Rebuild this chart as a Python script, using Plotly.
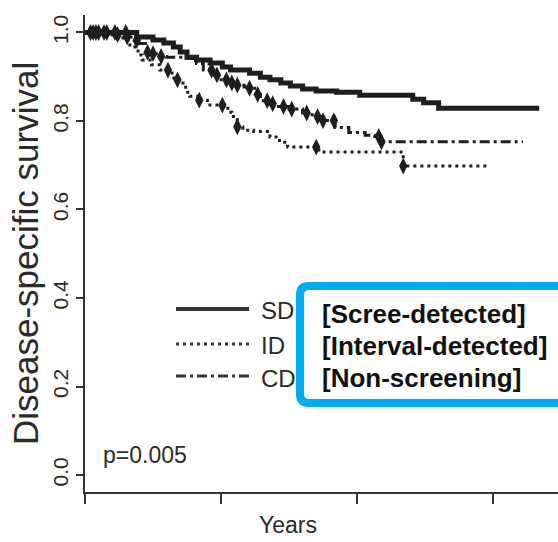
import numpy as np
import plotly.graph_objects as go

# ---- data (years, survival) ----
sd_t = [0, 1.9, 2.5, 2.9, 3.25, 3.5, 3.75, 4.1, 4.6, 5.05, 5.35, 6.05, 6.45, 6.8, 7.2, 7.55, 8.0, 8.5, 9.25, 10.1, 12.05, 12.45, 13.0]
sd_s = [1.0, 0.99, 0.983, 0.976, 0.967, 0.956, 0.944, 0.938, 0.931, 0.922, 0.915, 0.908, 0.899, 0.893, 0.886, 0.879, 0.872, 0.868, 0.865, 0.858, 0.849, 0.841, 0.829]
sd_end = 16.7
sd_cens = [0.2, 0.5, 0.8, 1.1, 1.5]

id_t = [0, 0.9, 1.4, 1.65, 1.95, 2.1, 2.45, 2.75, 3.2, 3.4, 3.6, 3.7, 3.85, 4.2, 4.5, 5.25, 5.4, 5.6, 5.8, 6.2, 6.8, 7.15, 7.45, 8.6, 11.7]
id_s = [1.0, 0.995, 0.983, 0.967, 0.949, 0.938, 0.927, 0.915, 0.897, 0.893, 0.886, 0.865, 0.856, 0.847, 0.836, 0.82, 0.81, 0.787, 0.779, 0.776, 0.764, 0.752, 0.741, 0.73, 0.698]
id_end = 14.78
id_cens = [0.3, 0.7, 3.05, 3.4, 4.2, 5.05, 5.6, 8.5, 11.7]

cd_t = [0, 1.0, 1.4, 1.75, 1.95, 2.3, 2.5, 2.75, 3.0, 3.75, 4.1, 4.35, 4.7, 4.9, 5.25, 5.5, 5.85, 6.05, 6.3, 6.45, 6.8, 7.05, 7.5, 8.0, 8.35, 8.7, 9.2, 9.7, 10.3, 10.65, 10.85]
cd_s = [1.0, 0.995, 0.99, 0.982, 0.975, 0.955, 0.952, 0.946, 0.944, 0.942, 0.93, 0.915, 0.904, 0.893, 0.886, 0.881, 0.877, 0.874, 0.86, 0.846, 0.839, 0.833, 0.827, 0.818, 0.81, 0.801, 0.785, 0.774, 0.768, 0.765, 0.753]
cd_end = 16.1
cd_cens = [0.4, 1.2, 1.55, 1.9, 2.3, 2.5, 2.8, 4.65, 4.85, 5.2, 5.4, 5.6, 6.05, 6.35, 6.7, 6.9, 7.3, 7.6, 8.15, 8.55, 8.75, 9.15, 10.8, 10.9]

y_ticks = [0.0, 0.2, 0.4, 0.6, 0.8, 1.0]
y_ticklabels = ["0.0", "0.2", "0.4", "0.6", "0.8", "1.0"]
x_ticks = [0, 5, 10, 15]

legend_labels = ["SD", "ID", "CD"]
box_labels = ["[Scree-detected]", "[Interval-detected]", "[Non-screening]"]
p_text = "p=0.005"

W, H = 558, 542
ML, MR, MT, MB = 85, 0, 15, 50
PW, PH = W - ML - MR, H - MT - MB

INK = "#1e1e1e"
SANS = "Liberation Sans, Arial, sans-serif"


def px_x(x):
    return (x - ML) / PW


def px_y(y):
    return (H - MB - y) / PH


def step_at(ts, ss, t):
    i = np.searchsorted(np.array(ts), t, side="right") - 1
    return ss[i]


fig = go.Figure()

styles = [
    (sd_t, sd_s, sd_end, sd_cens, dict(width=5, color=INK, dash="solid")),
    (id_t, id_s, id_end, id_cens, dict(width=3, color=INK, dash="3px,4px")),
    (cd_t, cd_s, cd_end, cd_cens, dict(width=3, color=INK, dash="10px,4px,3px,4px")),
]
for ts, ss, te, cens, ln in styles:
    fig.add_trace(go.Scatter(x=list(ts) + [te], y=list(ss) + [ss[-1]], mode="lines",
                             line=dict(shape="hv", **ln), showlegend=False, hoverinfo="skip"))
    fig.add_trace(go.Scatter(x=cens, y=[step_at(ts, ss, c) for c in cens], mode="markers",
                             marker=dict(symbol="diamond-tall", size=12, color=INK, line=dict(width=0)),
                             showlegend=False, hoverinfo="skip"))

shapes = []
# legend samples
leg_y = [309, 344, 376]
leg_dash = ["solid", "3px,4px", "10px,4px,3px,4px"]
leg_w = [4, 3, 3]
for yy, dsh, lw in zip(leg_y, leg_dash, leg_w):
    shapes.append(dict(type="line", xref="paper", yref="paper", x0=px_x(176), x1=px_x(249),
                       y0=px_y(yy), y1=px_y(yy), line=dict(color="#333333", width=lw, dash=dsh)))

annotations = []
for yy, lab in zip([311, 345, 378], legend_labels):
    annotations.append(dict(xref="paper", yref="paper", x=px_x(259), y=px_y(yy), text=lab,
                            showarrow=False, xanchor="left", yanchor="middle",
                            font=dict(family=SANS, size=24, color="#2a2a2a")))

# blue box, open past the right edge: white fill + open outline (top, rounded left, bottom)
bx0, by0, bx1, by1, r = 300, 286, 640, 403, 9
rx, ry = r / PW, r / PH
X0, X1 = px_x(bx0), px_x(bx1)
Y0, Y1 = px_y(by1), px_y(by0)
shapes.append(dict(type="rect", xref="paper", yref="paper", x0=X0, x1=X1, y0=Y0, y1=Y1,
                   fillcolor="white", line=dict(width=0), layer="above"))
path = (f"M {X1},{Y1} L {X0+rx},{Y1} Q {X0},{Y1} {X0},{Y1-ry} L {X0},{Y0+ry} "
        f"Q {X0},{Y0} {X0+rx},{Y0} L {X1},{Y0}")
shapes.append(dict(type="path", xref="paper", yref="paper", path=path,
                   line=dict(color="#00AEEF", width=8), layer="above"))

for yy, lab in zip([314, 346, 378], box_labels):
    annotations.append(dict(xref="paper", yref="paper", x=px_x(320), y=px_y(yy), text="<b>" + lab + "</b>",
                            showarrow=False, xanchor="left", yanchor="middle",
                            font=dict(family=SANS, size=26, color="#111111")))

annotations.append(dict(xref="paper", yref="paper", x=px_x(101), y=px_y(455), text=p_text,
                        showarrow=False, xanchor="left", yanchor="middle",
                        font=dict(family=SANS, size=23, color="#2a2a2a")))
annotations.append(dict(xref="paper", yref="paper", x=px_x(288), y=px_y(525), text="Years",
                        showarrow=False, xanchor="center", yanchor="middle",
                        font=dict(family=SANS, size=23, color="#2a2a2a")))
annotations.append(dict(xref="paper", yref="paper", x=px_x(26), y=px_y(254), text="Disease-specific survival",
                        showarrow=False, xanchor="center", yanchor="middle", textangle=-90,
                        font=dict(family=SANS, size=35, color="#2a2a2a")))

fig.update_layout(
    width=W, height=H, margin=dict(l=ML, r=MR, t=MT, b=MB),
    plot_bgcolor="white", paper_bgcolor="white",
    shapes=shapes, annotations=annotations, showlegend=False,
    xaxis=dict(range=[0, PW / 27.2], tickvals=x_ticks, ticktext=["", "", "", ""], ticks="outside",
               ticklen=10, tickwidth=2, tickcolor="#333333", showline=True, linecolor="#333333",
               linewidth=2, showgrid=False, zeroline=False, fixedrange=True),
    yaxis=dict(range=[-0.0384, 1.0395], tickvals=y_ticks, ticktext=y_ticklabels, ticks="outside",
               ticklen=7, tickwidth=2, tickcolor="#333333", showline=True, linecolor="#333333",
               linewidth=2, showgrid=False, zeroline=False, tickangle=-90,
               tickfont=dict(family=SANS, size=21, color="#2a2a2a"), fixedrange=True),
)

fig.write_html("out.html", config={"displayModeBar": False},
               post_script="document.body.style.margin='0';document.body.style.overflow='hidden';")
